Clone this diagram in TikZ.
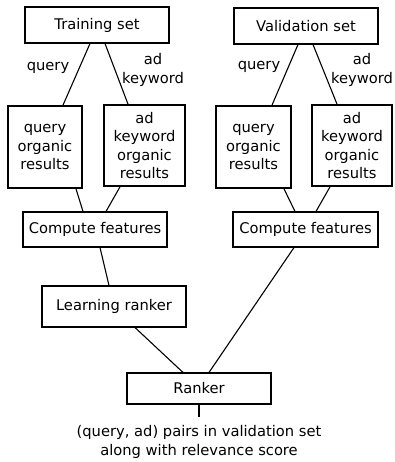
\documentclass[tikz,border=0pt]{standalone}
\usepackage{fontspec}
\setmainfont{DejaVu Sans}
\begin{document}
\begin{tikzpicture}[x=1pt,y=1pt,
  every node/.style={font=\fontsize{14.7}{18.4}\selectfont, inner sep=0pt},
  box/.style={draw, line width=1.1pt, anchor=center, align=center},
  thick box/.style={draw, line width=1.7pt, anchor=center, align=center},
  lbl/.style={align=center},
  conn/.style={line width=1.1pt}]
\useasboundingbox (0,0) rectangle (394,-462);
% top boxes
\node[box, minimum width=144, minimum height=36] (ts) at (97,-25) {Training set};
\node[box, minimum width=144, minimum height=36] (vs) at (306,-26) {Validation set};
% organic results
\node[thick box, minimum width=74, minimum height=82] (q1) at (45,-147) {query\\organic\\results};
\node[thick box, minimum width=81, minimum height=81] (a1) at (144.5,-145.5) {ad\\keyword\\organic\\results};
\node[thick box, minimum width=75, minimum height=82] (q2) at (253.5,-147) {query\\organic\\results};
\node[thick box, minimum width=80, minimum height=81] (a2) at (352,-145.5) {ad\\keyword\\organic\\results};
% labels
\node[lbl] (l1) at (48,-68) {query};
\node[lbl] (l2) at (153,-70) {ad\\keyword};
\node[lbl] (l3) at (259,-67) {query};
\node[lbl] (l4) at (362,-70) {ad\\keyword};
% compute features
\node[box, minimum width=144, minimum height=35] (cf1) at (95,-229.5) {Compute features};
\node[box, minimum width=145, minimum height=35] (cf2) at (305.5,-229.5) {Compute features};
% learning ranker, ranker
\node[box, minimum width=144, minimum height=41] (lr) at (114,-306.5) {Learning ranker};
\node[box, minimum width=144, minimum height=31] (rk) at (199,-388.5) {Ranker};
\coordinate (out) at (199,-417);
\node[lbl] (res) at (199,-442) {(query, ad) pairs in validation set\\along with relevance score};
% connectors
\draw[conn] ([xshift=-7]ts.south) -- ([xshift=18]q1.north);
\draw[conn] ([xshift=8]ts.south) -- ([xshift=-16.5]a1.north);
\draw[conn] ([xshift=-8]vs.south) -- ([xshift=18.5]q2.north);
\draw[conn] ([xshift=7]vs.south) -- ([xshift=-15]a2.north);
\draw[conn] ([xshift=31]q1.south) -- ([xshift=-12]cf1.north);
\draw[conn] ([xshift=-24.5]a1.south) -- ([xshift=11]cf1.north);
\draw[conn] ([xshift=30.5]q2.south) -- ([xshift=-10.5]cf2.north);
\draw[conn] ([xshift=-22]a2.south) -- ([xshift=10.5]cf2.north);
\draw[conn] ([xshift=5]cf1.south) -- ([xshift=-5]lr.north);
\draw[conn] ([xshift=21]lr.south) -- ([xshift=-16]rk.north);
\draw[conn] ([xshift=-11.5]cf2.south) -- ([xshift=10]rk.north);
\draw[conn] (rk.south) -- (out);
\end{tikzpicture}
\end{document}
